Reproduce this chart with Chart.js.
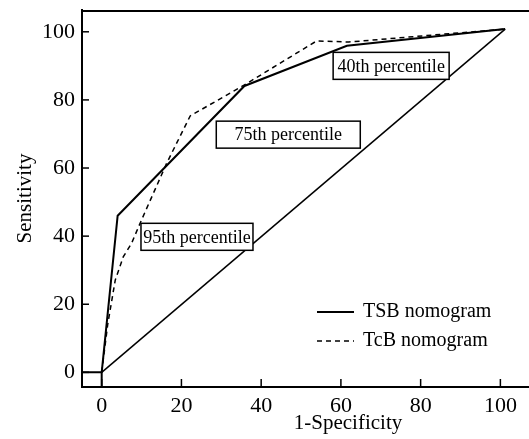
<!DOCTYPE html>
<html>
<head>
<meta charset="utf-8">
<script src="https://cdn.jsdelivr.net/npm/chart.js@4.4.0/dist/chart.umd.min.js"></script>
<style>
  html, body { margin: 0; padding: 0; background: #fff; overflow: hidden; }
</style>
</head>
<body>
<canvas id="roc" width="616" height="439"></canvas>
<script>
// ROC points (1-Specificity, Sensitivity)
const tsbX = [0, 4, 35.8, 61.5, 101.2];
const tsbY = [0, 46, 84.1, 95.9, 100.8];
const tcbX = [0, 1.5, 3.4, 5.4, 7.5, 9.6, 16.3, 22.2, 35.8, 53.9, 62, 101.2];
const tcbY = [0, 14, 27.1, 33.9, 37.9, 43.7, 61.4, 75.3, 84.4, 97.3, 97, 100.8];
const refX = [0, 101.2];
const refY = [0, 100.8];
const baseX = [-6, 0, 0];
const baseY = [0, 0, -6];
const tickValues = [0, 20, 40, 60, 80, 100];

const noteText = ['40th percentile', '75th percentile', '95th percentile'];
const noteX = [72.6, 46.8, 23.9];
const noteY = [90.0, 69.8, 39.8];

// styling
const serif = '"Liberation Serif", "Times New Roman", serif';
const noteWidth = [116, 144, 112];

const toPoints = (xs, ys) => xs.map((v, i) => ({ x: v, y: ys[i] }));
const keepTicks = scale => {
  scale.ticks = tickValues.map(v => ({ value: v }));
};

Chart.defaults.font.family = serif;
Chart.defaults.color = '#000';

const decor = {
  id: 'decor',
  afterDatasetsDraw(chart) {
    const { ctx, chartArea: a, scales: { x, y } } = chart;
    ctx.save();
    ctx.strokeStyle = '#000';

    // top frame line
    ctx.lineWidth = 2;
    ctx.beginPath();
    ctx.moveTo(a.left, a.top + 1);
    ctx.lineTo(a.right, a.top + 1);
    ctx.stroke();

    // inward tick marks
    ctx.lineWidth = 1.5;
    tickValues.forEach(v => {
      const px = x.getPixelForValue(v);
      ctx.beginPath();
      ctx.moveTo(px, a.bottom);
      ctx.lineTo(px, a.bottom - 8);
      ctx.stroke();
      const py = y.getPixelForValue(v);
      ctx.beginPath();
      ctx.moveTo(a.left, py);
      ctx.lineTo(a.left + 7, py);
      ctx.stroke();
    });

    // percentile boxes
    ctx.font = '18px ' + serif;
    ctx.textAlign = 'center';
    ctx.textBaseline = 'middle';
    noteText.forEach((t, i) => {
      const cx = x.getPixelForValue(noteX[i]);
      const cy = y.getPixelForValue(noteY[i]);
      const w = noteWidth[i], h = 27;
      ctx.fillStyle = '#fff';
      ctx.fillRect(cx - w / 2, cy - h / 2, w, h);
      ctx.lineWidth = 1.5;
      ctx.strokeRect(cx - w / 2, cy - h / 2, w, h);
      ctx.fillStyle = '#000';
      ctx.fillText(t, cx, cy + 1);
    });

    // legend inside the plot
    ctx.font = '20px ' + serif;
    ctx.textAlign = 'left';
    chart.data.datasets.filter(d => d.label).forEach((d, i) => {
      const lx = a.left + 235;
      const ly = a.bottom - 75 + i * 29;
      ctx.lineWidth = d.borderWidth;
      ctx.setLineDash(d.borderDash || []);
      ctx.beginPath();
      ctx.moveTo(lx, ly);
      ctx.lineTo(lx + 37, ly);
      ctx.stroke();
      ctx.setLineDash([]);
      ctx.fillText(d.label, lx + 46, ly);
    });
    ctx.restore();
  }
};

new Chart(document.getElementById('roc'), {
  type: 'line',
  data: {
    datasets: [
      {
        label: 'TSB nomogram',
        data: toPoints(tsbX, tsbY),
        borderColor: '#000',
        borderWidth: 2,
        pointRadius: 0,
        tension: 0
      },
      {
        label: 'TcB nomogram',
        data: toPoints(tcbX, tcbY),
        borderColor: '#000',
        borderWidth: 1.5,
        borderDash: [5, 4],
        pointRadius: 0,
        tension: 0
      },
      {
        data: toPoints(refX, refY),
        borderColor: '#000',
        borderWidth: 1.5,
        pointRadius: 0
      },
      {
        data: toPoints(baseX, baseY),
        borderColor: '#000',
        borderWidth: 2,
        pointRadius: 0
      }
    ]
  },
  options: {
    responsive: false,
    animation: false,
    layout: { padding: { top: 10, right: 2, left: 0, bottom: 0 } },
    plugins: {
      legend: { display: false },
      tooltip: { enabled: false }
    },
    scales: {
      x: {
        type: 'linear',
        min: -4.94,
        max: 128.5,
        afterBuildTicks: keepTicks,
        afterFit: s => {
          s.height = 52;
          s.paddingLeft = 0;
          s.paddingRight = 0;
        },
        grid: { display: false, drawTicks: false },
        border: { display: true, color: '#000', width: 2 },
        ticks: { padding: 6, font: { size: 22 } },
        title: {
          display: true,
          text: '1-Specificity',
          font: { size: 21 },
          padding: { top: 0, bottom: 3 }
        }
      },
      y: {
        type: 'linear',
        min: -4.3,
        max: 106.4,
        afterBuildTicks: keepTicks,
        afterFit: s => {
          s.width = 82;
          s.paddingTop = 0;
          s.paddingBottom = 0;
        },
        grid: { display: false, drawTicks: false },
        border: { display: true, color: '#000', width: 2 },
        ticks: { padding: 7, font: { size: 22 } },
        title: {
          display: true,
          text: 'Sensitivity',
          font: { size: 21 },
          padding: { top: 13, bottom: 0 }
        }
      }
    }
  },
  plugins: [decor]
});
</script>
</body>
</html>
